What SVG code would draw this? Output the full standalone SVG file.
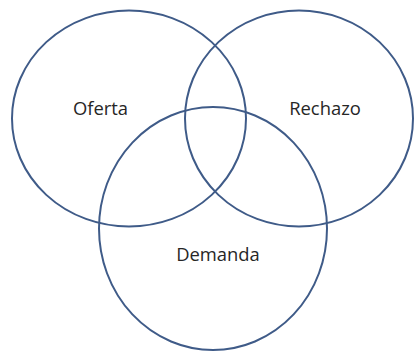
<svg xmlns="http://www.w3.org/2000/svg" width="414" height="354" viewBox="0 0 414 354">
<style>
.c{fill:none;stroke:#3f5b88;stroke-width:2}
.t{font-family:"Open Sans","Liberation Sans",sans-serif;font-size:18.4px;fill:#262626;text-anchor:middle}
</style>
<rect width="414" height="354" fill="#fff"/>
<g id="oferta"><ellipse class="c" cx="129" cy="118.5" rx="117" ry="108"/><text class="t" x="100.5" y="115">Oferta</text></g>
<g id="rechazo"><ellipse class="c" cx="299" cy="118.5" rx="114" ry="108"/><text class="t" x="325" y="115">Rechazo</text></g>
<g id="demanda"><ellipse class="c" cx="213" cy="228.5" rx="114" ry="121.5"/><text class="t" x="218" y="261">Demanda</text></g>
<g id="connectors"/>
</svg>
